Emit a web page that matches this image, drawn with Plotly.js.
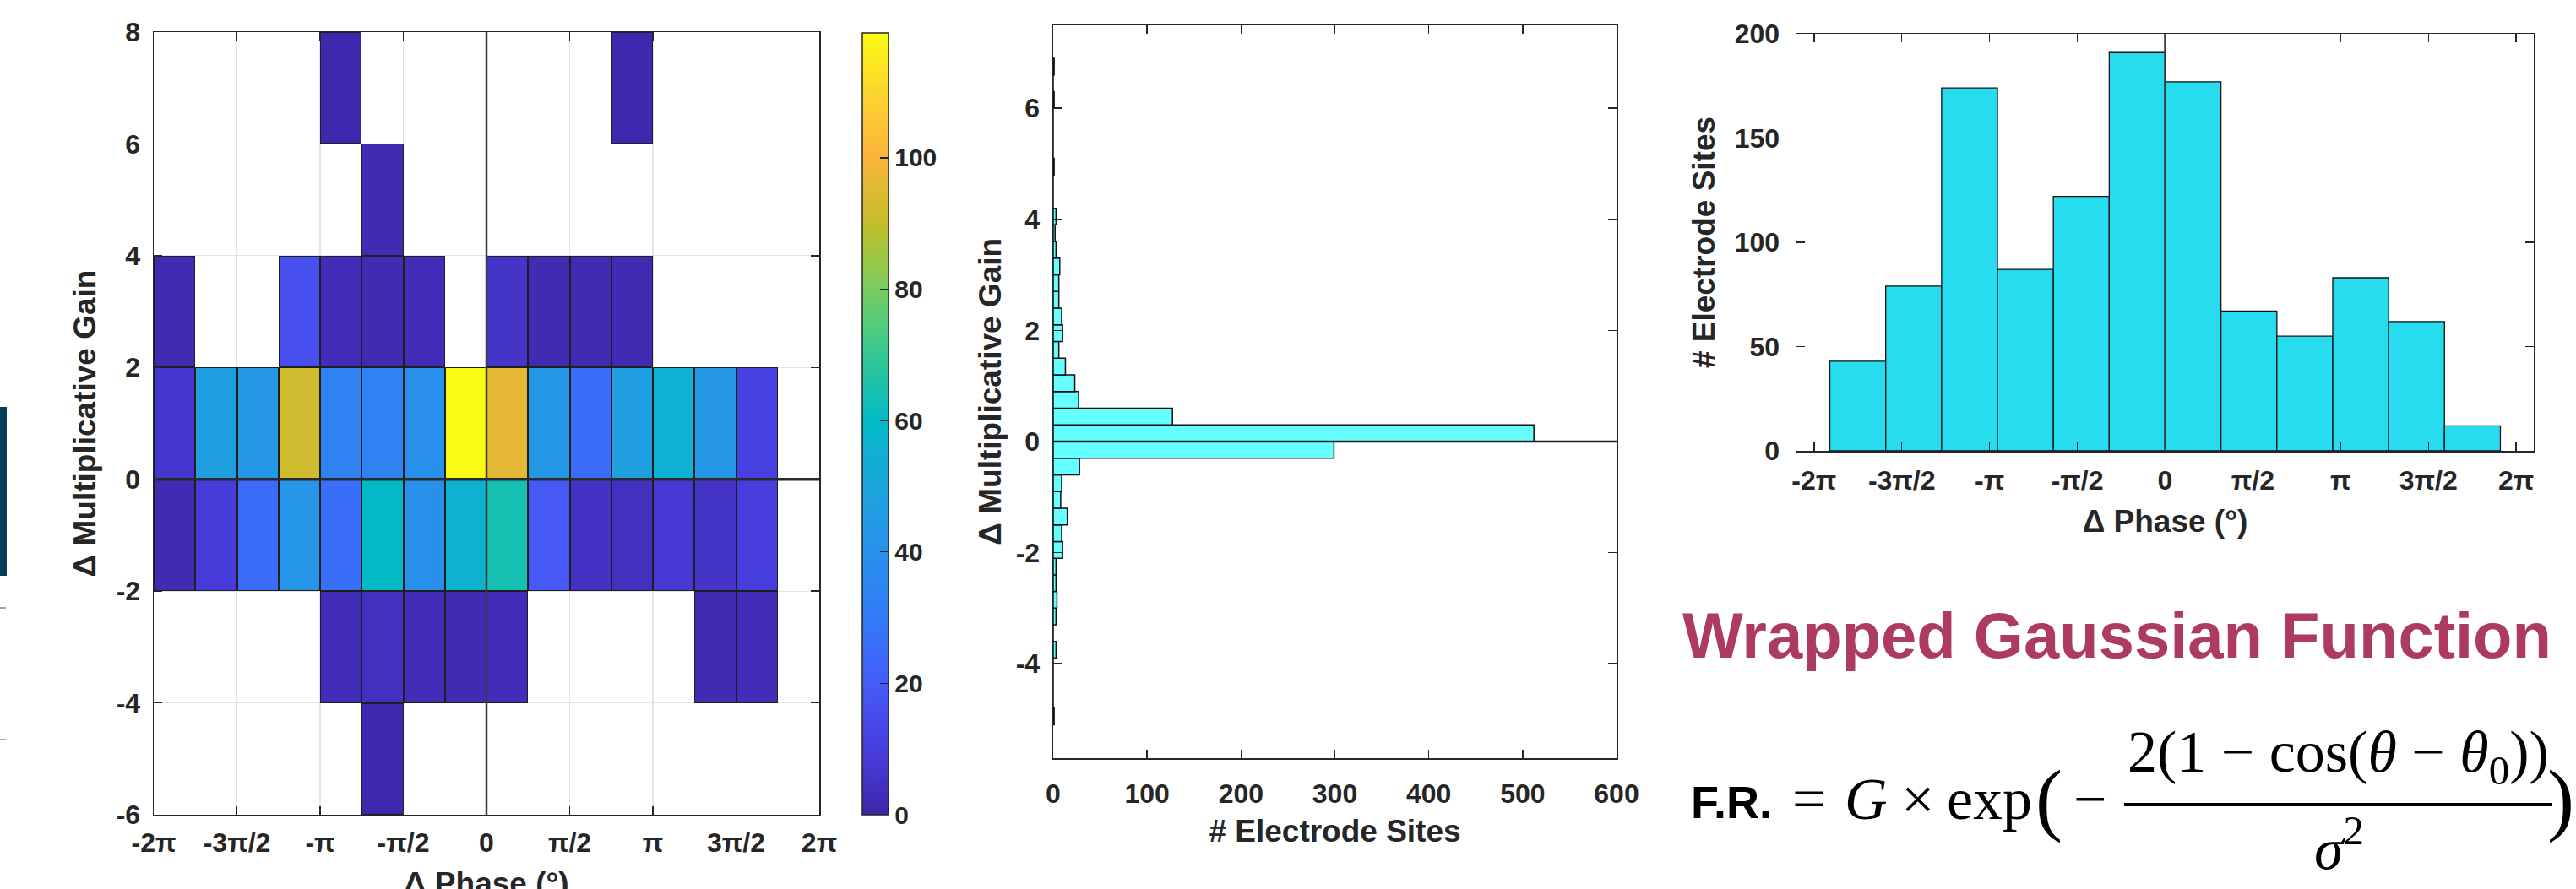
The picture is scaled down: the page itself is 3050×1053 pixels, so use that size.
<!DOCTYPE html>
<html><head><meta charset="utf-8">
<script src="https://cdn.plot.ly/plotly-3.0.1.min.js"></script>
<style>html,body{margin:0;padding:0;background:#fff;overflow:hidden}#chart{width:3050px;height:1053px}</style>
</head><body><div id="chart"></div>
<script>
const PI = Math.PI;
// ---------- Heatmap (2-D histogram) ----------
const phaseEdges = [-8,-7,-6,-5,-4,-3,-2,-1,0,1,2,3,4,5,6,7,8].map(k => k * PI / 4);
const gainEdges = [-6, -4, -2, 0, 2, 4, 6, 8];
const countsGainM6toM4 = [0,0,0,0,0,1,0,0,0,0,0,0,0,0,0,0];
const countsGainM4toM2 = [0,0,0,0,3,4,3,2,3,0,0,0,0,2,3,0];
const countsGainM2to0  = [2,9,25,42,26,60,40,56,64,19,5,4,8,6,10,0];
const countsGain0to2   = [7,47,43,92,33,33,40,119,96,43,25,47,55,43,11,0];
const countsGain2to4   = [2,0,0,16,3,2,3,0,6,2,2,2,0,0,0,0];
const countsGain4to6   = [0,0,0,0,0,2,0,0,0,0,0,0,0,0,0,0];
const countsGain6to8   = [0,0,0,0,1,0,0,0,0,0,0,1,0,0,0,0];
const colorbarTicks = [0, 20, 40, 60, 80, 100];
const colorMax = 119;

// ---------- Middle histogram (Δ multiplicative gain) ----------
const gainBinCenters = [-4.95,-4.65,-4.35,-4.05,-3.75,-3.45,-3.15,-2.85,-2.55,-2.25,-1.95,-1.65,-1.35,-1.05,-0.75,-0.45,-0.15,
                        0.15,0.45,0.75,1.05,1.35,1.65,1.95,2.25,2.55,2.85,3.15,3.45,3.75,4.05,4.35,4.65,4.95,5.25,5.55,5.85,6.15,6.45,6.75];
const gainBinCounts  = [1,0,0,0,3,0,3,4,3,3,10,9,15,8,9,28,299,
                        512,127,27,23,13,6,10,9,6,6,7,3,2,3,0,0,1,0,0,0,1,0,1];
const gainBinWidth = 0.3;

// ---------- Right histogram (Δ phase) ----------
const phaseBinCenters = [-5.5,-4.5,-3.5,-2.5,-1.5,-0.5,0.5,1.5,2.5,3.5,4.5,5.5];
const phaseBinCounts  = [43,79,174,87,122,191,177,67,55,83,62,12];

// ---------- Tick labels ----------
const phaseTickVals = [-2,-1.5,-1,-0.5,0,0.5,1,1.5,2].map(k => k * PI);
const phaseTickText = ['-2π','-3π/2','-π','-π/2','0','π/2','π','3π/2','2π'];
const gainTickVals = [-6,-4,-2,0,2,4,6,8];
const gainTickText = ['-6','-4','-2','0','2','4','6','8'];
const midGainTickVals = [-4,-2,0,2,4,6];
const midGainTickText = ['-4','-2','0','2','4','6'];
const sitesTickVals = [0,100,200,300,400,500,600];
const phaseSitesTickVals = [0,50,100,150,200];

// parula-like colour scale (sampled from the reference colourbar)
const parula = [
  [0.000,'rgb(62,38,168)'],[0.084,'rgb(72,62,222)'],[0.168,'rgb(70,92,250)'],
  [0.252,'rgb(48,124,246)'],[0.336,'rgb(40,144,234)'],[0.420,'rgb(28,166,220)'],
  [0.504,'rgb(2,186,198)'],[0.588,'rgb(52,200,148)'],[0.672,'rgb(120,205,95)'],
  [0.756,'rgb(195,190,42)'],[0.840,'rgb(250,180,60)'],[0.924,'rgb(252,212,45)'],
  [1.000,'rgb(249,251,20)']];

const W = 3050, H = 1053;
const px = v => v / W, py = v => 1 - v / H;
const FONT = 'Liberation Sans, Arial, Helvetica, sans-serif';
const SERIF = 'Liberation Serif, Times New Roman, serif';
const TXT = '#262626';

const countRows = [countsGainM6toM4,countsGainM4toM2,countsGainM2to0,countsGain0to2,countsGain2to4,countsGain4to6,countsGain6to8];
const zMain = countRows.map(r => r.map(v => v > 0 ? v : null));
const zEdge = countRows.map(r => r.map(v => v > 0 ? 1 : null));

const traces = [
  {type:'heatmap', x: phaseEdges, y: gainEdges, z: zEdge, xaxis:'x', yaxis:'y',
   colorscale:[[0,'#1e1e1e'],[1,'#1e1e1e']], showscale:false, hoverinfo:'skip'},
  {type:'heatmap', x: phaseEdges, y: gainEdges, z: zMain, xaxis:'x', yaxis:'y',
   colorscale: parula, zmin:0, zmax: colorMax, xgap:2, ygap:2,
   colorbar:{x: px(1021), xanchor:'left', xref:'paper', y: py(502), yanchor:'middle',
     thickness:31, thicknessmode:'pixels', len: 926/H, lenmode:'fraction',
     xpad:0, ypad:0, outlinewidth:1.5, outlinecolor:TXT,
     ticks:'inside', ticklen:10, tickwidth:1.5, tickcolor:TXT, tickvals: colorbarTicks,
     tickfont:{family:FONT, size:30, color:TXT, weight:'bold'}}},
  {type:'bar', orientation:'h', y: gainBinCenters, x: gainBinCounts, width: gainBinWidth,
   xaxis:'x2', yaxis:'y2', marker:{color:'#66FFFF', line:{color:'#111', width:1.5}}},
  {type:'bar', x: phaseBinCenters, y: phaseBinCounts, width: 1,
   xaxis:'x3', yaxis:'y3', marker:{color:'#28DCEF', line:{color:'#111', width:1.3}}}
];

function axisBase(extra){
  return Object.assign({
    ticks:'inside', ticklen:10, tickwidth:1.5, tickcolor:TXT,
    showline:true, linecolor:TXT, linewidth:1.5, mirror:'ticks',
    zeroline:false, showgrid:false, automargin:false,
    tickfont:{family:FONT, size:32, color:TXT, weight:'bold'}
  }, extra);
}
const titleFont = {family:FONT, size:37, color:TXT, weight:'bold'};

const layout = {
  width: W, height: H, margin:{l:0,r:0,t:0,b:0},
  paper_bgcolor:'#fff', plot_bgcolor:'rgba(0,0,0,0)', showlegend:false,
  barmode:'overlay',
  xaxis: axisBase({domain:[px(182),px(970)], anchor:'y', range:[-2*PI, 2*PI],
    tickvals: phaseTickVals, ticktext: phaseTickText, showgrid:true, gridcolor:'#e4e4e4', gridwidth:1.2,
    ticklabelstandoff:4}),
  yaxis: axisBase({domain:[py(965),py(38)], anchor:'x', range:[-6, 8],
    tickvals: gainTickVals, ticktext: gainTickText, showgrid:true, gridcolor:'#e4e4e4', gridwidth:1.2,
    ticklabelstandoff:8, title:{text:'Δ Multiplicative Gain', font:titleFont, standoff:12}}),
  xaxis2: axisBase({domain:[px(1247),px(1914)], anchor:'y2', range:[0, 600],
    tickvals: sitesTickVals, ticklabelstandoff:13,
    title:{text:'# Electrode Sites', font:titleFont, standoff:14}}),
  yaxis2: axisBase({domain:[py(898),py(29.5)], anchor:'x2', range:[-5.7, 7.5],
    tickvals: midGainTickVals, ticktext: midGainTickText, ticklabelstandoff:8,
    title:{text:'Δ Multiplicative Gain', font:titleFont, standoff:5}}),
  xaxis3: axisBase({domain:[px(2127),px(3000)], anchor:'y3', range:[-2.1*PI, 2.1*PI],
    tickvals: phaseTickVals, ticktext: phaseTickText, ticklabelstandoff:6,
    title:{text:'Δ Phase (°)', font:titleFont, standoff:18}}),
  yaxis3: axisBase({domain:[py(534),py(40)], anchor:'x3', range:[0, 200],
    tickvals: phaseSitesTickVals, ticklabelstandoff:12,
    title:{text:'# Electrode Sites', font:titleFont, standoff:12}}),
  shapes: [
    {type:'line', xref:'x', yref:'y domain', x0:0, x1:0, y0:0, y1:1, line:{color:'#3c3c3c', width:2.5}, layer:'above'},
    {type:'line', xref:'x domain', yref:'y', x0:0, x1:1, y0:0, y1:0, line:{color:'#2a2a2a', width:3.5}, layer:'above'},
    {type:'line', xref:'x2 domain', yref:'y2', x0:0, x1:1, y0:0, y1:0, line:{color:'#1e1e1e', width:2.5}, layer:'above'},
    {type:'line', xref:'x3', yref:'y3 domain', x0:0, x1:0, y0:0, y1:1, line:{color:'#3c3c3c', width:2.5}, layer:'above'},
    {type:'rect', xref:'paper', yref:'paper', x0:0, x1:px(8), y0:py(682), y1:py(482), fillcolor:'#073d58', line:{width:0}},
    {type:'line', xref:'paper', yref:'paper', x0:0, x1:px(7), y0:py(720), y1:py(720), line:{color:'#888', width:1.5}},
    {type:'line', xref:'paper', yref:'paper', x0:0, x1:px(7), y0:py(876), y1:py(876), line:{color:'#888', width:1.5}},
    {type:'line', xref:'paper', yref:'paper', x0:px(2515), x1:px(3022), y0:py(953), y1:py(953), line:{color:'#000', width:4}}
  ],
  annotations: [
    // x-axis title of the heatmap (partly below the picture's lower edge, as in the reference)
    {text:'Δ Phase (°)', x:px(576), y:py(1032), xref:'paper', yref:'paper', showarrow:false,
     xanchor:'center', yanchor:'top', yshift:8, font:titleFont},
    {text:'Wrapped Gaussian Function', x:px(2506), y:py(752), xref:'paper', yref:'paper', showarrow:false,
     xanchor:'center', yanchor:'middle', font:{family:FONT, size:76, color:'#AD3A62', weight:'bold'}},
    {text:'F.R.', x:px(2050), y:py(950), xref:'paper', yref:'paper', showarrow:false,
     xanchor:'center', yanchor:'middle', font:{family:FONT, size:54, color:'#000', weight:'bold'}},
    {text:'=', x:px(2141), y:py(946), xref:'paper', yref:'paper', showarrow:false,
     xanchor:'center', yanchor:'middle', font:{family:SERIF, size:70, color:'#000'}},
    {text:'<i>G</i>', x:px(2209), y:py(946), xref:'paper', yref:'paper', showarrow:false,
     xanchor:'center', yanchor:'middle', font:{family:SERIF, size:70, color:'#000'}},
    {text:'×', x:px(2270), y:py(946), xref:'paper', yref:'paper', showarrow:false,
     xanchor:'center', yanchor:'middle', font:{family:SERIF, size:70, color:'#000'}},
    {text:'exp', x:px(2355), y:py(946), xref:'paper', yref:'paper', showarrow:false,
     xanchor:'center', yanchor:'middle', font:{family:SERIF, size:70, color:'#000'}},
    {text:'(', x:px(2426), y:py(945), xref:'paper', yref:'paper', showarrow:false,
     xanchor:'center', yanchor:'middle', font:{family:SERIF, size:96, color:'#000'}},
    {text:'−', x:px(2474), y:py(946), xref:'paper', yref:'paper', showarrow:false,
     xanchor:'center', yanchor:'middle', font:{family:SERIF, size:70, color:'#000'}},
    {text:'2(1 − cos(<i>θ</i> − <i>θ</i><sub>0</sub>))', x:px(2768), y:py(896), xref:'paper', yref:'paper', showarrow:false,
     xanchor:'center', yanchor:'middle', font:{family:SERIF, size:70, color:'#000'}},
    {text:'<i>σ</i><sup>2</sup>', x:px(2769), y:py(1000), xref:'paper', yref:'paper', showarrow:false,
     xanchor:'center', yanchor:'middle', font:{family:SERIF, size:70, color:'#000'}},
    {text:')', x:px(3032), y:py(945), xref:'paper', yref:'paper', showarrow:false,
     xanchor:'center', yanchor:'middle', font:{family:SERIF, size:96, color:'#000'}}
  ]
};

Plotly.newPlot('chart', traces, layout, {staticPlot:true, displayModeBar:false});
</script>
</body></html>
